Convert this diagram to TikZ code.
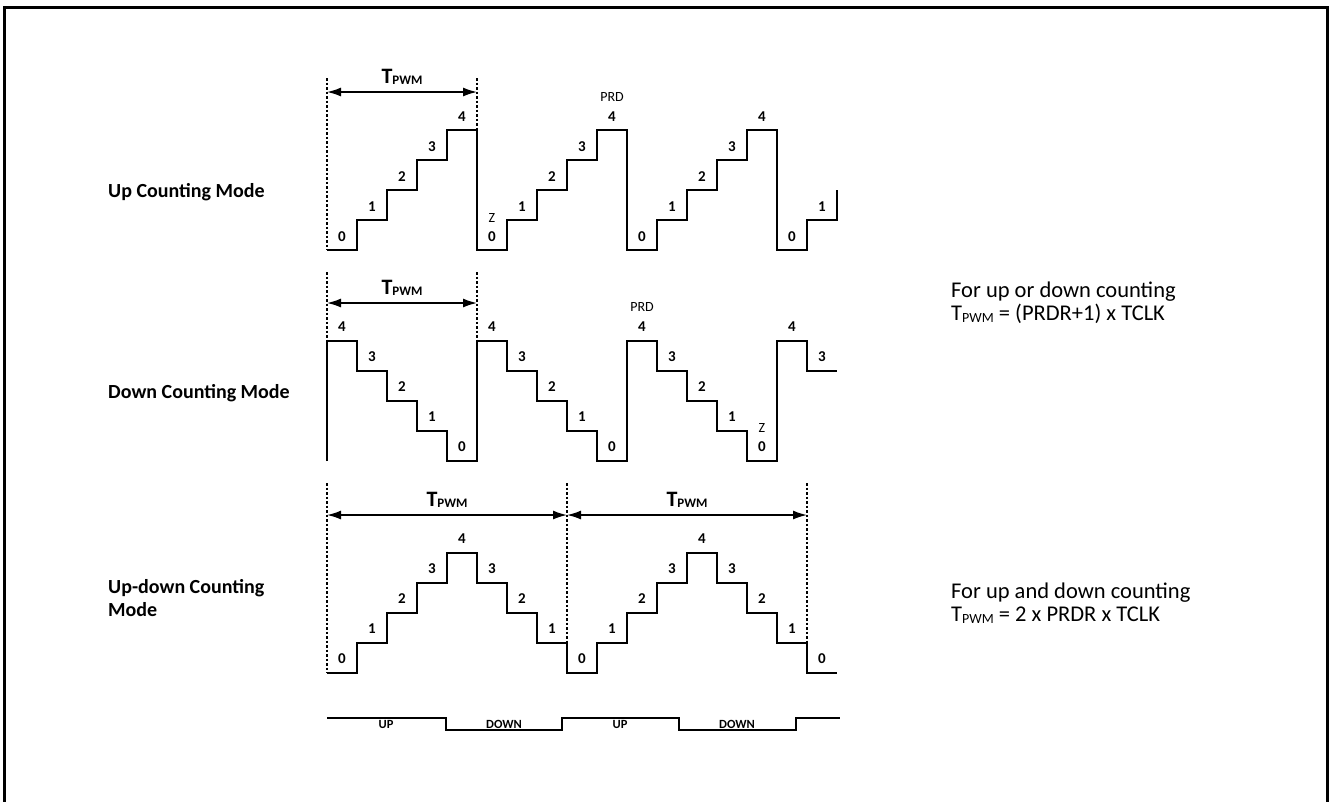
\documentclass[tikz,border=0pt]{standalone}
\usepackage{fontspec}
\setmainfont{Carlito}
\usetikzlibrary{arrows.meta}
\newcommand{\Tbig}{{\fontsize{22}{22}\selectfont\bfseries T}\raisebox{-1pt}{\fontsize{13}{13}\selectfont\bfseries PWM}}
\newcommand{\Tsmall}{T\raisebox{-2pt}{\fontsize{14}{14}\selectfont PWM}}

\begin{document}
\begin{tikzpicture}[x=1pt,y=-1pt,
  wave/.style={line width=2pt},
  marker/.style={line width=1.8pt, dash pattern=on 2.5pt off 2pt},
  dim/.style={line width=1.5pt, {Latex[length=14pt,width=9pt]}-{Latex[length=14pt,width=9pt]}},
  num/.style={font=\fontsize{15}{15}\selectfont\bfseries, inner sep=0pt},
  tag/.style={font=\fontsize{14}{14}\selectfont, inner sep=0pt},
  mode/.style={font=\fontsize{20}{23}\selectfont\bfseries, anchor=west, inner sep=0pt, align=left},
  note/.style={font=\fontsize{22.5}{23}\selectfont, anchor=west, inner sep=0pt, align=left}]
\useasboundingbox (0,0) rectangle (1330,801);
\draw[line width=3pt] (4,815) -- (4,7) -- (1327.5,7) -- (1327.5,815);

% Up counting
\node[mode] (upname) at (108,192) {Up Counting Mode};
\draw[wave] (327,250) \foreach \p in {0,1,2} {
  -- ++(30,0) -- ++(0,-30) -- ++(30,0) -- ++(0,-30) -- ++(30,0) -- ++(0,-30)
  -- ++(30,0) -- ++(0,-30) -- ++(30,0) -- ++(0,120)}
  -- ++(30,0) -- ++(0,-30) -- ++(30,0) -- ++(0,-30);
\foreach \p in {0,1,2}
  \foreach \k in {0,...,4}
    \node[num] (u\p\k) at ({342+150*\p+30*\k},{237-30*\k}) {\k};
\node[num] (u30) at (792,237) {0};
\node[num] (u31) at (822,207) {1};
\node[tag] (uz) at (492,218) {Z};
\node[tag] (uprd) at (612,97) {PRD};
\draw[marker] (327,78) -- (327,250);
\draw[marker] (477,78) -- (477,130);
\coordinate (ua) at (327,92);
\coordinate (ub) at (477,92);
\draw[dim] (ua) -- (ub) node[midway, above=3pt] (ut) {\Tbig};

% Down counting
\node[mode] (downname) at (108,393) {Down Counting Mode};
\draw[wave] (327,461) -- (327,341) \foreach \p in {0,1,2} {
  -- ++(30,0) -- ++(0,30) -- ++(30,0) -- ++(0,30) -- ++(30,0) -- ++(0,30)
  -- ++(30,0) -- ++(0,30) -- ++(30,0) -- ++(0,-120)}
  -- ++(30,0) -- ++(0,30) -- ++(30,0);
\foreach \p in {0,1,2}
  \foreach \k in {0,...,4}
    \node[num] (d\p\k) at ({342+150*\p+30*\k},{327+30*\k}) {\the\numexpr4-\k\relax};
\node[num] (d30) at (792,327) {4};
\node[num] (d31) at (822,357) {3};
\node[tag] (dprd) at (642,307) {PRD};
\node[tag] (dz) at (762,428) {Z};
\draw[marker] (327,272) -- (327,341);
\draw[marker] (477,272) -- (477,341);
\coordinate (da) at (327,303);
\coordinate (db) at (477,303);
\draw[dim] (da) -- (db) node[midway, above=3pt] (dt) {\Tbig};

% Up-down counting
\node[mode] (udname) at (108,598) {Up-down Counting\\Mode};
\draw[wave] (327,673) \foreach \p in {0,1} {
  -- ++(30,0) -- ++(0,-30) -- ++(30,0) -- ++(0,-30) -- ++(30,0) -- ++(0,-30)
  -- ++(30,0) -- ++(0,-30) -- ++(30,0) -- ++(0,30) -- ++(30,0) -- ++(0,30)
  -- ++(30,0) -- ++(0,30) -- ++(30,0) -- ++(0,30)}
  -- ++(30,0);
\foreach \p in {0,1} {
  \foreach \k in {0,...,4}
    \node[num] (r\p\k) at ({342+240*\p+30*\k},{659-30*\k}) {\k};
  \foreach \j in {1,2,3}
    \node[num] (f\p\j) at ({462+240*\p+30*\j},{539+30*\j}) {\the\numexpr4-\j\relax};
}
\node[num] (r20) at (822,659) {0};
\foreach \x in {327,567,807}
  \draw[marker] (\x,483) -- (\x,673);
\coordinate (ma) at (327,515);
\coordinate (mb) at (567,515);
\coordinate (mc) at (807,515);
\draw[dim] (ma) -- (mb) node[midway, above=3pt] (mt1) {\Tbig};
\draw[dim] (mb) -- (mc) node[midway, above=3pt] (mt2) {\Tbig};

% direction bar
\draw[line width=1.5pt] (327,718) -- (446,718) -- (446,730) -- (562,730) -- (562,718)
  -- (679,718) -- (679,730) -- (796,730) -- (796,718) -- (840,718);
\node[num, font=\fontsize{12.5}{12.5}\selectfont\bfseries] (b1) at (386,724.5) {UP};
\node[num, font=\fontsize{12.5}{12.5}\selectfont\bfseries] (b2) at (504,724.5) {DOWN};
\node[num, font=\fontsize{12.5}{12.5}\selectfont\bfseries] (b3) at (620,724.5) {UP};
\node[num, font=\fontsize{12.5}{12.5}\selectfont\bfseries] (b4) at (737,724.5) {DOWN};

% formulas
\node[note] (f1) at (951,303) {For up or down counting\\\Tsmall{} = (PRDR+1) x TCLK};
\node[note] (f2) at (951,603) {For up and down counting\\\Tsmall{} = 2 x PRDR x TCLK};
\end{tikzpicture}
\end{document}
